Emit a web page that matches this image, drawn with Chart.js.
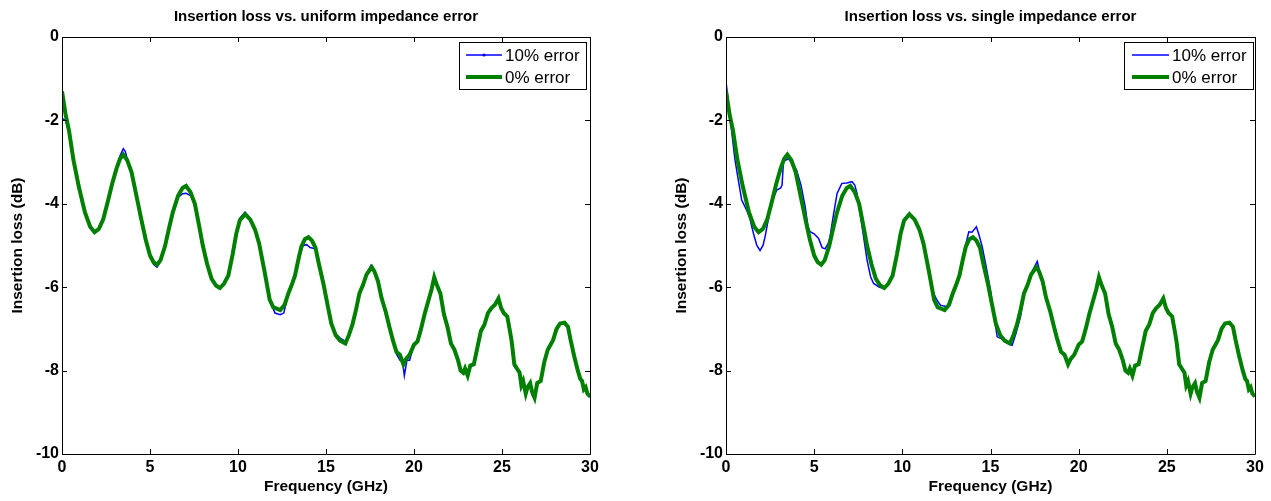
<!DOCTYPE html>
<html>
<head>
    <meta charset="utf-8">
    <title>Insertion loss vs. impedance error</title>
    <script src="https://cdn.jsdelivr.net/npm/chart.js@4.4.0/dist/chart.umd.min.js"></script>
    <style>
        html, body { margin: 0; padding: 0; background: #fff; }
        .panel { position: absolute; top: 0; height: 501px; }
        #leftPanel { left: 0; width: 635px; }
        #rightPanel { left: 635px; width: 636px; }
    </style>
</head>
<body>
    <div class="panel" id="leftPanel"><canvas id="uniformChart"></canvas></div>
    <div class="panel" id="rightPanel"><canvas id="singleChart"></canvas></div>

    <script>
        // Tick positions
        const xTicks = [0, 5, 10, 15, 20, 25, 30];
        const yTicks = [0, -2, -4, -6, -8, -10];

        // 0% error (same trace in both panels)
        const freqNominal = [0.0, 0.2, 0.4, 0.65, 0.95, 1.3, 1.6, 1.85, 2.1, 2.35, 2.6, 2.85, 3.1, 3.3, 3.48, 3.7, 3.95, 4.25, 4.5, 4.75,
            5.0, 5.2, 5.4, 5.6, 5.85, 6.1, 6.3, 6.6, 6.85, 7.05, 7.3, 7.55, 7.8, 8.0, 8.25, 8.5, 8.75, 8.97, 9.2, 9.45,
            9.7, 9.9, 10.1, 10.4, 10.7, 10.97, 11.2, 11.5, 11.8, 12.0, 12.4, 12.65, 12.86, 13.05, 13.24, 13.45, 13.6, 13.8, 14.0, 14.2,
            14.4, 14.6, 14.85, 15.1, 15.3, 15.55, 15.8, 16.1, 16.3, 16.5, 16.7, 16.9, 17.1, 17.3, 17.6, 17.75, 17.95, 18.15, 18.4, 18.6,
            18.8, 19.0, 19.2, 19.4, 19.55, 19.75, 20.0, 20.2, 20.4, 20.6, 20.8, 21.0, 21.15, 21.3, 21.5, 21.7, 21.9, 22.1, 22.3, 22.5,
            22.65, 22.8, 22.9, 23.05, 23.2, 23.4, 23.6, 23.8, 24.0, 24.2, 24.4, 24.6, 24.8, 24.95, 25.1, 25.3, 25.45, 25.55, 25.7, 25.85,
            26.0, 26.1, 26.2, 26.35, 26.45, 26.6, 26.7, 26.85, 27.0, 27.2, 27.4, 27.6, 27.9, 28.1, 28.3, 28.55, 28.75, 28.9, 29.1, 29.3,
            29.45, 29.55, 29.65, 29.75, 29.85, 30.0];
        const lossNominal = [-1.30, -1.85, -2.25, -2.95, -3.58, -4.20, -4.55, -4.68, -4.60, -4.36, -3.95, -3.52, -3.15, -2.92, -2.82, -2.95, -3.24, -3.85, -4.36, -4.85,
            -5.24, -5.40, -5.46, -5.35, -5.02, -4.55, -4.20, -3.80, -3.62, -3.57, -3.72, -4.00, -4.55, -5.00, -5.45, -5.80, -5.96, -6.02, -5.92, -5.72,
            -5.20, -4.72, -4.40, -4.25, -4.38, -4.62, -4.95, -5.60, -6.30, -6.48, -6.55, -6.42, -6.15, -5.95, -5.72, -5.30, -5.03, -4.85, -4.80, -4.88,
            -5.05, -5.45, -5.91, -6.45, -6.87, -7.15, -7.28, -7.35, -7.15, -6.90, -6.55, -6.15, -5.95, -5.70, -5.52, -5.62, -5.85, -6.25, -6.60, -6.95,
            -7.27, -7.55, -7.62, -7.85, -7.72, -7.62, -7.38, -7.30, -7.00, -6.65, -6.35, -6.05, -5.76, -5.95, -6.15, -6.65, -6.95, -7.35, -7.50, -7.75,
            -8.00, -8.05, -7.95, -8.12, -7.88, -7.85, -7.45, -7.05, -6.90, -6.62, -6.50, -6.42, -6.27, -6.50, -6.62, -6.70, -7.05, -7.30, -7.85, -7.95,
            -8.05, -8.35, -8.25, -8.55, -8.40, -8.30, -8.50, -8.65, -8.30, -8.25, -7.80, -7.50, -7.27, -7.00, -6.87, -6.85, -6.95, -7.27, -7.65, -7.99,
            -8.20, -8.25, -8.45, -8.40, -8.55, -8.62];

        // 10% error, uniform impedance error (left panel)
        const freqUniform = [0.0, 0.2, 0.4, 0.65, 0.95, 1.3, 1.6, 1.85, 2.1, 2.35, 2.6, 2.85, 3.1, 3.3, 3.48, 3.6, 3.7, 3.95, 4.25, 4.5,
            4.75, 5.0, 5.2, 5.4, 5.6, 5.85, 6.1, 6.3, 6.6, 6.85, 7.05, 7.3, 7.55, 7.8, 8.0, 8.25, 8.5, 8.75, 8.97, 9.2,
            9.45, 9.7, 9.9, 10.1, 10.4, 10.7, 10.97, 11.2, 11.5, 11.8, 12.1, 12.4, 12.6, 12.86, 13.05, 13.24, 13.45, 13.7, 13.9, 14.1,
            14.4, 14.6, 14.85, 15.1, 15.3, 15.55, 15.8, 16.1, 16.3, 16.5, 16.7, 16.9, 17.1, 17.3, 17.55, 17.75, 17.95, 18.15, 18.4, 18.6,
            18.8, 19.0, 19.2, 19.35, 19.45, 19.6, 19.75, 20.0, 20.2, 20.4, 20.6, 20.8, 21.0, 21.15, 21.3, 21.5, 21.7, 21.9, 22.1, 22.3,
            22.5, 22.65, 22.8, 22.9, 23.05, 23.2, 23.4, 23.6, 23.8, 24.0, 24.2, 24.4, 24.6, 24.8, 24.95, 25.1, 25.3, 25.45, 25.55, 25.7,
            25.85, 26.0, 26.1, 26.2, 26.35, 26.45, 26.6, 26.7, 26.85, 27.0, 27.2, 27.4, 27.6, 27.9, 28.1, 28.3, 28.55, 28.75, 28.9, 29.1,
            29.3, 29.45, 29.55, 29.65, 29.75, 29.85, 30.0];
        const lossUniform = [-1.95, -2.00, -2.30, -2.95, -3.58, -4.20, -4.55, -4.70, -4.62, -4.38, -3.95, -3.50, -3.10, -2.85, -2.68, -2.75, -2.92, -3.24, -3.85, -4.36,
            -4.85, -5.26, -5.45, -5.52, -5.38, -5.02, -4.55, -4.20, -3.85, -3.76, -3.75, -3.80, -4.02, -4.55, -5.00, -5.45, -5.82, -5.98, -6.04, -5.95,
            -5.72, -5.20, -4.72, -4.35, -4.20, -4.35, -4.62, -4.95, -5.60, -6.30, -6.62, -6.66, -6.62, -6.15, -5.95, -5.72, -5.30, -5.00, -4.98, -5.05,
            -5.08, -5.45, -5.91, -6.45, -6.87, -7.12, -7.22, -7.30, -7.15, -6.90, -6.55, -6.15, -5.95, -5.68, -5.48, -5.60, -5.85, -6.25, -6.60, -6.95,
            -7.27, -7.60, -7.75, -7.78, -8.12, -7.75, -7.75, -7.38, -7.30, -7.00, -6.65, -6.35, -6.05, -5.78, -5.95, -6.15, -6.65, -6.98, -7.35, -7.52,
            -7.78, -8.02, -8.08, -7.95, -8.15, -7.90, -7.85, -7.45, -7.05, -6.90, -6.60, -6.48, -6.40, -6.30, -6.52, -6.65, -6.72, -7.10, -7.32, -7.90,
            -7.98, -8.08, -8.40, -8.28, -8.60, -8.42, -8.33, -8.58, -8.68, -8.32, -8.25, -7.80, -7.50, -7.27, -7.00, -6.88, -6.86, -6.98, -7.30, -7.68,
            -8.02, -8.22, -8.28, -8.48, -8.42, -8.58, -8.64];

        // 10% error, single impedance error (right panel)
        const freqSingle = [0.0, 0.23, 0.4, 0.51, 0.7, 0.89, 1.17, 1.35, 1.55, 1.75, 1.93, 2.1, 2.22, 2.5, 2.7, 2.88, 3.1, 3.18, 3.26, 3.54,
            3.8, 4.0, 4.25, 4.49, 4.65, 4.77, 5.0, 5.25, 5.45, 5.62, 5.8, 5.9, 6.1, 6.3, 6.57, 6.85, 7.15, 7.3, 7.43, 7.7,
            8.0, 8.2, 8.37, 8.7, 9.03, 9.2, 9.45, 9.7, 9.9, 10.1, 10.4, 10.7, 10.97, 11.2, 11.5, 11.78, 11.95, 12.16, 12.54, 12.8,
            13.05, 13.3, 13.55, 13.77, 13.95, 14.2, 14.35, 14.53, 14.75, 15.0, 15.2, 15.38, 15.7, 16.0, 16.23, 16.45, 16.7, 16.9, 17.1, 17.3,
            17.65, 17.75, 17.95, 18.15, 18.4, 18.6, 18.8, 19.0, 19.2, 19.4, 19.55, 19.75, 20.0, 20.2, 20.4, 20.6, 20.8, 21.0, 21.15, 21.3,
            21.5, 21.7, 21.9, 22.1, 22.3, 22.5, 22.65, 22.8, 22.9, 23.05, 23.2, 23.4, 23.6, 23.8, 24.0, 24.2, 24.4, 24.6, 24.8, 24.95,
            25.1, 25.3, 25.45, 25.55, 25.7, 25.85, 26.0, 26.1, 26.2, 26.35, 26.45, 26.6, 26.7, 26.85, 27.0, 27.2, 27.4, 27.6, 27.9, 28.1,
            28.3, 28.55, 28.75, 28.9, 29.1, 29.3, 29.45, 29.55, 29.65, 29.75, 29.85, 30.0];
        const lossSingle = [-1.07, -1.91, -2.55, -2.95, -3.43, -3.91, -4.15, -4.35, -4.70, -5.00, -5.12, -5.00, -4.78, -4.15, -3.85, -3.67, -3.62, -3.55, -2.98, -2.92,
            -3.05, -3.19, -3.55, -4.07, -4.55, -4.67, -4.72, -4.83, -5.05, -5.08, -4.95, -4.79, -4.25, -3.75, -3.51, -3.50, -3.47, -3.55, -3.75, -4.50,
            -5.35, -5.75, -5.91, -6.00, -6.03, -5.92, -5.72, -5.20, -4.72, -4.40, -4.25, -4.38, -4.62, -4.95, -5.60, -6.15, -6.30, -6.43, -6.47, -6.20,
            -5.90, -5.59, -5.05, -4.67, -4.68, -4.55, -4.75, -5.03, -5.50, -6.07, -6.70, -7.19, -7.25, -7.35, -7.39, -7.10, -6.71, -6.20, -5.95, -5.68,
            -5.38, -5.55, -5.85, -6.25, -6.60, -6.95, -7.27, -7.55, -7.62, -7.85, -7.72, -7.62, -7.38, -7.30, -7.00, -6.65, -6.35, -6.05, -5.76, -5.95,
            -6.15, -6.65, -6.95, -7.35, -7.50, -7.75, -8.00, -8.05, -7.95, -8.12, -7.88, -7.85, -7.45, -7.05, -6.90, -6.62, -6.50, -6.42, -6.27, -6.50,
            -6.62, -6.70, -7.05, -7.30, -7.85, -7.95, -8.05, -8.35, -8.25, -8.55, -8.40, -8.30, -8.50, -8.65, -8.30, -8.25, -7.80, -7.50, -7.27, -7.00,
            -6.87, -6.85, -6.95, -7.27, -7.65, -7.99, -8.20, -8.25, -8.45, -8.40, -8.55, -8.62];

        const FONT = '"Liberation Sans", Arial, sans-serif';

        // title centred over the axes box, like matlab does
        const axesTitle = {
            id: 'axesTitle',
            afterDraw(chart, args, opts) {
                const { ctx, chartArea: a } = chart;
                ctx.save();
                ctx.fillStyle = '#000';
                ctx.font = 'bold 15px ' + FONT;
                ctx.textAlign = 'center';
                ctx.textBaseline = 'middle';
                ctx.fillText(opts.text, (a.left + a.right) / 2, 17);
                ctx.restore();
            }
        };

        // matlab-style box with inward ticks on all four sides
        const framePlugin = {
            id: 'frame',
            afterDatasetsDraw(chart) {
                const { ctx, chartArea: a, scales: { x, y } } = chart;
                ctx.save();
                ctx.strokeStyle = '#000';
                ctx.lineWidth = 1;
                ctx.beginPath();
                ctx.rect(Math.round(a.left) + 0.5, Math.round(a.top) + 0.5, Math.round(a.width), Math.round(a.height));
                xTicks.forEach(v => {
                    const px = Math.round(x.getPixelForValue(v)) + 0.5;
                    ctx.moveTo(px, a.bottom); ctx.lineTo(px, a.bottom - 5);
                    ctx.moveTo(px, a.top); ctx.lineTo(px, a.top + 5);
                });
                yTicks.forEach(v => {
                    const py = Math.round(y.getPixelForValue(v)) + 0.5;
                    ctx.moveTo(a.left, py); ctx.lineTo(a.left + 5, py);
                    ctx.moveTo(a.right, py); ctx.lineTo(a.right - 5, py);
                });
                ctx.stroke();
                ctx.restore();
            }
        };

        // boxed legend in the top right corner of the axes
        const boxLegend = {
            id: 'boxLegend',
            afterDraw(chart, args, opts) {
                const { ctx, chartArea: a } = chart;
                const w = opts.width, h = 47;
                const x0 = Math.round(a.right - opts.inset - w), y0 = Math.round(a.top + 5);
                ctx.save();
                ctx.fillStyle = '#fff';
                ctx.fillRect(x0, y0, w, h);
                ctx.strokeStyle = '#000';
                ctx.lineWidth = 1;
                ctx.strokeRect(x0 + 0.5, y0 + 0.5, w, h);
                chart.data.datasets.forEach((ds, i) => {
                    const yy = y0 + 13 + i * 22;
                    const lx = x0 + opts.lineStart;
                    ctx.strokeStyle = ds.borderColor;
                    ctx.lineWidth = ds.borderWidth;
                    ctx.beginPath();
                    ctx.moveTo(lx, yy);
                    ctx.lineTo(lx + opts.lineLen, yy);
                    ctx.stroke();
                    if (ds.legendDot) {
                        ctx.fillStyle = ds.borderColor;
                        ctx.beginPath();
                        ctx.arc(lx + opts.lineLen / 2, yy, 1.6, 0, Math.PI * 2);
                        ctx.fill();
                    }
                    ctx.fillStyle = '#000';
                    ctx.font = '17px ' + FONT;
                    ctx.textBaseline = 'middle';
                    ctx.fillText(ds.label, lx + opts.lineLen + 3, yy + 1);
                });
                ctx.restore();
            }
        };

        function toPoints(xs, ys) {
            return xs.map((f, i) => ({ x: f, y: ys[i] }));
        }

        function makeChart(canvasId, title, blueX, blueY, dot, pad, legendOpts) {
            return new Chart(document.getElementById(canvasId), {
                type: 'line',
                data: {
                    datasets: [
                        {
                            label: '10% error',
                            data: toPoints(blueX, blueY),
                            borderColor: '#0000ff',
                            borderWidth: 1.5,
                            pointRadius: 0,
                            tension: 0,
                            order: 1,
                            legendDot: dot
                        },
                        {
                            label: '0% error',
                            data: toPoints(freqNominal, lossNominal),
                            borderColor: '#008000',
                            borderWidth: 4,
                            pointRadius: 0,
                            tension: 0,
                            order: 0
                        }
                    ]
                },
                options: {
                    responsive: true,
                    maintainAspectRatio: false,
                    animation: false,
                    layout: { padding: { left: pad.left, right: pad.right, top: 37, bottom: 0 } },
                    plugins: {
                        legend: { display: false },
                        tooltip: { enabled: false },
                        title: { display: false },
                        axesTitle: { text: title },
                        boxLegend: legendOpts
                    },
                    scales: {
                        x: {
                            type: 'linear',
                            min: 0,
                            max: 30,
                            afterBuildTicks: s => { s.ticks = xTicks.map(v => ({ value: v })); },
                            afterFit: s => { s.height = 47; },
                            grid: { display: false, drawTicks: false },
                            border: { display: false },
                            ticks: { color: '#000', padding: 4, maxRotation: 0, font: { family: FONT, size: 16, weight: 'bold' } },
                            title: {
                                display: true,
                                text: 'Frequency (GHz)',
                                color: '#000',
                                font: { family: FONT, size: 15.5, weight: 'bold' },
                                padding: { top: 0, bottom: 5 }
                            }
                        },
                        y: {
                            type: 'linear',
                            min: -10,
                            max: 0,
                            afterBuildTicks: s => { s.ticks = yTicks.map(v => ({ value: v })); },
                            afterFit: s => { s.width = 62; },
                            grid: { display: false, drawTicks: false },
                            border: { display: false },
                            ticks: { color: '#000', padding: 3, font: { family: FONT, size: 16, weight: 'bold' } },
                            title: {
                                display: true,
                                text: 'Insertion loss (dB)',
                                color: '#000',
                                font: { family: FONT, size: 15.5, weight: 'bold' },
                                padding: { top: 8, bottom: 0 }
                            }
                        }
                    }
                },
                plugins: [axesTitle, framePlugin, boxLegend]
            });
        }

        makeChart('uniformChart', 'Insertion loss vs. uniform impedance error',
            freqUniform, lossUniform, true,
            { left: 0, right: 45 },
            { width: 127, inset: 4, lineStart: 7, lineLen: 36 });

        makeChart('singleChart', 'Insertion loss vs. single impedance error',
            freqSingle, lossSingle, false,
            { left: 29, right: 16 },
            { width: 129, inset: 2, lineStart: 8, lineLen: 37 });
    </script>
</body>
</html>
